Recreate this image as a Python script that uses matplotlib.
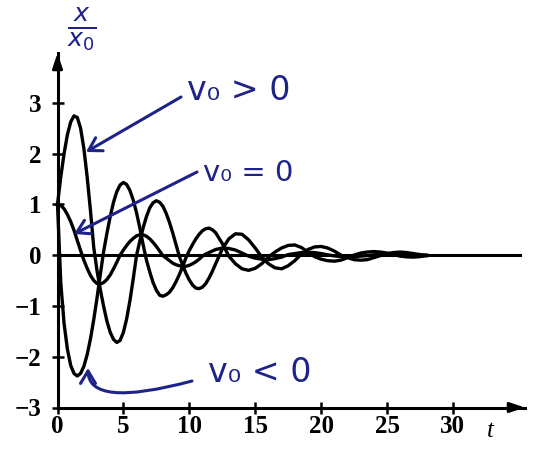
import matplotlib
matplotlib.use("Agg")
import matplotlib.pyplot as plt

# time samples
t = [0, 0.25, 0.5, 0.75, 1, 1.25, 1.5, 1.75, 2, 2.25, 2.5, 2.75, 3, 3.25, 3.5, 3.75,
     4, 4.25, 4.5, 4.75, 5, 5.25, 5.5, 5.75, 6, 6.25, 6.5, 6.75, 7, 7.25, 7.5, 7.75,
     8, 8.25, 8.5, 8.75, 9, 9.25, 9.5, 9.75, 10, 10.25, 10.5, 10.75, 11, 11.25, 11.5, 11.75,
     12, 12.5, 13, 13.5, 14, 14.5, 15, 15.5, 16, 16.5, 17, 17.5, 18, 18.5, 19, 19.5,
     20, 20.5, 21, 21.5, 22, 22.5, 23, 23.5, 24, 24.5, 25, 25.5, 26, 26.5, 27, 27.5, 28]

# x/x0 for v0 > 0
x_pos = [1.00, 1.54, 2.00, 2.37, 2.62, 2.74, 2.71, 2.50, 2.10, 1.54, 0.88, 0.15, -0.31, -0.68, -1.01, -1.30,
         -1.52, -1.66, -1.72, -1.68, -1.52, -1.25, -0.89, -0.46, 0.00, 0.28, 0.54, 0.76, 0.93, 1.03, 1.07, 1.04,
         0.96, 0.82, 0.64, 0.43, 0.20, -0.03, -0.20, -0.36, -0.49, -0.59, -0.65, -0.66, -0.63, -0.56, -0.45, -0.32,
         -0.17, 0.12, 0.32, 0.42, 0.41, 0.30, 0.14, -0.04, -0.17, -0.25, -0.27, -0.21, -0.11, 0.02, 0.11, 0.16,
         0.17, 0.14, 0.08, 0.00, -0.05, -0.09, -0.10, -0.09, -0.05, -0.01, 0.03, 0.05, 0.06, 0.05, 0.03, 0.01, 0.00]

# x/x0 for v0 = 0
x_zero = [1.00, 0.98, 0.91, 0.80, 0.66, 0.49, 0.29, 0.09, -0.10, -0.26, -0.40, -0.50, -0.56, -0.57, -0.54, -0.48,
          -0.39, -0.27, -0.14, 0.00, 0.10, 0.19, 0.27, 0.33, 0.38, 0.40, 0.40, 0.37, 0.32, 0.25, 0.17, 0.08,
          -0.01, -0.06, -0.11, -0.16, -0.19, -0.21, -0.22, -0.22, -0.20, -0.17, -0.13, -0.08, -0.02, 0.02, 0.05, 0.08,
          0.11, 0.14, 0.13, 0.10, 0.04, -0.02, -0.06, -0.08, -0.09, -0.07, -0.04, 0.01, 0.03, 0.05, 0.055, 0.05,
          0.03, 0.005, -0.015, -0.03, -0.035, -0.03, -0.02, -0.01, 0.005, 0.015, 0.02, 0.02, 0.015, 0.005, 0.0, -0.005, -0.01]

# x/x0 for v0 < 0
x_neg = [1.00, -0.55, -1.35, -1.85, -2.17, -2.33, -2.38, -2.33, -2.19, -1.96, -1.65, -1.27, -0.84, -0.38, 0.07, 0.43,
         0.76, 1.04, 1.25, 1.38, 1.43, 1.39, 1.27, 1.08, 0.83, 0.53, 0.20, -0.10, -0.33, -0.54, -0.69, -0.79,
         -0.81, -0.78, -0.73, -0.64, -0.52, -0.38, -0.22, -0.05, 0.09, 0.21, 0.32, 0.41, 0.48, 0.52, 0.53, 0.50,
         0.44, 0.23, -0.02, -0.17, -0.27, -0.30, -0.26, -0.17, -0.04, 0.06, 0.14, 0.19, 0.20, 0.15, 0.06, -0.03,
         -0.08, -0.11, -0.12, -0.10, -0.05, 0.00, 0.04, 0.06, 0.07, 0.06, 0.04, 0.01, -0.02, -0.035, -0.04, -0.03, -0.01]

x_ticks = [0, 5, 10, 15, 20, 25, 30]
y_ticks = [-3, -2, -1, 0, 1, 2, 3]
y_tick_labels = ["\u22123", "\u22122", "\u22121", "0", "1", "2", "3"]

W, H = 533, 450
ink = "#1d2388"


def fp(x, y):
    # pixel position (from top-left) -> figure fraction
    return (x / W, 1 - y / H)


fig = plt.figure(figsize=(W / 100, H / 100), dpi=100)
ax = fig.add_axes([57.5 / W, (H - 407.5) / H, (525 - 57.5) / W, (407.5 - 53) / H])
ax.set_xlim(0, (525 - 57.5) / 13.18)
ax.set_ylim(-3, -3 + (407.5 - 53) / 50.8)

for s in ["top", "right"]:
    ax.spines[s].set_visible(False)
for s in ["left", "bottom"]:
    ax.spines[s].set_linewidth(2.2)

ax.set_xticks(x_ticks)
ax.set_yticks(y_ticks)
ax.set_yticklabels(y_tick_labels)
ax.tick_params(direction="inout", length=9, width=1.8, labelsize=18)
ax.tick_params(axis="x", pad=1)
ax.tick_params(axis="y", pad=7)
for lab in ax.get_xticklabels() + ax.get_yticklabels():
    lab.set_fontfamily("Liberation Serif")
    lab.set_fontweight("bold")

# arrow heads at the ends of both axes
head = dict(arrowstyle="-|>,head_length=0.9,head_width=0.3", color="black", lw=2,
            shrinkA=0, shrinkB=0)
ax.annotate("", xy=(0, 1), xycoords="axes fraction", xytext=(0, 0.96),
            arrowprops=head, annotation_clip=False)
ax.annotate("", xy=(1, 0), xycoords="axes fraction", xytext=(0.97, 0),
            arrowprops=head, annotation_clip=False)

ax.axhline(0, xmin=0, xmax=0.99, color="black", lw=2.2)

for y in (x_pos, x_zero, x_neg):
    ax.plot(t, y, color="black", lw=2.4, solid_joinstyle="round", clip_on=False)

fig.text(*fp(490, 431), "t", fontsize=18, style="italic", family="Liberation Serif",
         ha="center", va="center")

# handwritten notes
fig.text(*fp(82, 29), r"$\frac{x}{x_0}$", fontsize=26, color=ink, ha="center", va="center")

fig.text(*fp(239, 91), "v\u2080 > 0", fontsize=24, color=ink, ha="center", va="center")
fig.text(*fp(248, 173), "v\u2080 = 0", fontsize=21, color=ink, ha="center", va="center")
fig.text(*fp(260, 373), "v\u2080 < 0", fontsize=24, color=ink, ha="center", va="center")

pen = dict(arrowstyle="->,head_length=0.5,head_width=0.3", color=ink, lw=2.2,
           shrinkA=0, shrinkB=0, mutation_scale=18)
ax.annotate("", xy=fp(86, 152), xycoords="figure fraction",
            xytext=fp(181, 97), textcoords="figure fraction", arrowprops=pen)
ax.annotate("", xy=fp(74, 234), xycoords="figure fraction",
            xytext=fp(197, 172), textcoords="figure fraction", arrowprops=pen)
ax.annotate("", xy=fp(88, 368), xycoords="figure fraction",
            xytext=fp(192, 381), textcoords="figure fraction",
            arrowprops=dict(pen, connectionstyle="angle3,angleA=15,angleB=90"))

fig.savefig("out.png", dpi=100)
